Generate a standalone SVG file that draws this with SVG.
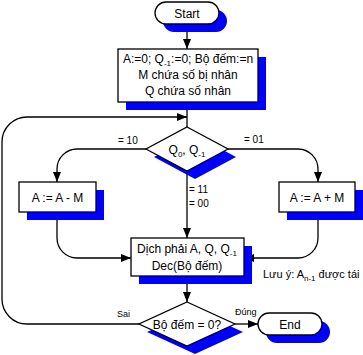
<svg xmlns="http://www.w3.org/2000/svg" width="363" height="355" viewBox="0 0 363 355">
<defs>
<marker id="arr" viewBox="0 0 10 8" refX="10" refY="4" markerWidth="10" markerHeight="8" markerUnits="userSpaceOnUse" orient="auto">
<path d="M0,0 L10,4 L0,8 Z" fill="#000"/>
</marker>
</defs>
<style>
.sh{fill:#0000ff;stroke:none}
.nd{fill:#fff;stroke:#000;stroke-width:1.3}
.t{font-family:"Liberation Sans",Arial,sans-serif;font-size:12px;fill:#000;text-anchor:middle}
.lb{font-family:"Liberation Sans",Arial,sans-serif;font-size:10px;fill:#000}
.sm{font-family:"Liberation Sans",Arial,sans-serif;font-size:9px;fill:#000}
.c{fill:none;stroke:#000;stroke-width:1.3}
</style>
<rect width="363" height="355" fill="#fff"/>
<g id="connectors">
<path class="c" d="M187,24 V49" marker-end="url(#arr)"/>
<path class="c" d="M187,102 V127"/>
<path class="c" d="M139,324 H27 A25,25 0 0 1 2,299 V142 A25,25 0 0 1 27,117 H187" marker-end="url(#arr)"/>
<path class="c" d="M146,149 H77 A20,20 0 0 0 57,169 V182" marker-end="url(#arr)"/>
<path class="c" d="M228,149 H298 A20,20 0 0 1 318,169 V182" marker-end="url(#arr)"/>
<path class="c" d="M187,171 V238" marker-end="url(#arr)"/>
<path class="c" d="M57,212 V238 A20,20 0 0 0 77,258 H131" marker-end="url(#arr)"/>
<path class="c" d="M318,212 V238 A20,20 0 0 1 298,258 H244" marker-end="url(#arr)"/>
<path class="c" d="M187,276 V302" marker-end="url(#arr)"/>
<path class="c" d="M235,324 H258" marker-end="url(#arr)"/>
<text class="lb" x="118" y="144">= 10</text>
<text class="lb" x="244" y="143">= 01</text>
<text class="lb" x="189" y="193">= 11</text>
<text class="lb" x="189" y="207">= 00</text>
<text class="sm" x="117" y="317">Sai</text>
<text class="sm" x="235" y="315">Đúng</text>
</g>
<g id="start">
<rect class="sh" x="163" y="10" width="64" height="22" rx="11"/>
<rect class="nd" x="155" y="2" width="64" height="22" rx="11"/>
<text class="t" x="187" y="17.5">Start</text>
</g>
<g id="init">
<rect class="sh" x="126" y="57" width="140" height="53"/>
<rect class="nd" x="118" y="49" width="140" height="53"/>
<text class="t" x="188" y="63">A:=0; Q<tspan font-size="8" dy="3">-1</tspan><tspan dy="-3">:=0; Bộ đếm:=n</tspan></text>
<text class="t" x="188" y="79">M chứa số bị nhân</text>
<text class="t" x="188" y="95">Q chứa số nhân</text>
</g>
<g id="decision1">
<polygon class="sh" points="195,135 236,157 195,179 154,157"/>
<polygon class="nd" points="187,127 228,149 187,171 146,149"/>
<text class="t" x="187" y="154">Q<tspan font-size="8" dy="3">0</tspan><tspan dy="-3">, Q</tspan><tspan font-size="8" dy="3">-1</tspan></text>
</g>
<g id="sub">
<rect class="sh" x="27" y="190" width="77" height="30"/>
<rect class="nd" x="19" y="182" width="77" height="30"/>
<text class="t" x="57.5" y="201.5">A := A - M</text>
</g>
<g id="add">
<rect class="sh" x="287" y="190" width="76" height="30"/>
<rect class="nd" x="279" y="182" width="76" height="30"/>
<text class="t" x="317" y="201.5">A := A + M</text>
</g>
<g id="shift">
<rect class="sh" x="139" y="246" width="113" height="38"/>
<rect class="nd" x="131" y="238" width="113" height="38"/>
<text class="t" x="187" y="253">Dịch phải A, Q, Q<tspan font-size="8" dy="3">-1</tspan></text>
<text class="t" x="187" y="270">Dec(Bộ đếm)</text>
</g>
<g id="note">
<text class="lb" x="263" y="278" style="font-size:11px">Lưu ý: A<tspan font-size="8" dy="3">n-1</tspan><tspan dy="-3"> được tái</tspan></text>
</g>
<g id="decision2">
<polygon class="sh" points="195,310 243,332 195,354 147,332"/>
<polygon class="nd" points="187,302 235,324 187,346 139,324"/>
<text class="t" x="187" y="328.5">Bộ đếm = 0?</text>
</g>
<g id="end">
<rect class="sh" x="266" y="321" width="64" height="22" rx="11"/>
<rect class="nd" x="258" y="313" width="64" height="22" rx="11"/>
<text class="t" x="290" y="328.5">End</text>
</g>
</svg>
